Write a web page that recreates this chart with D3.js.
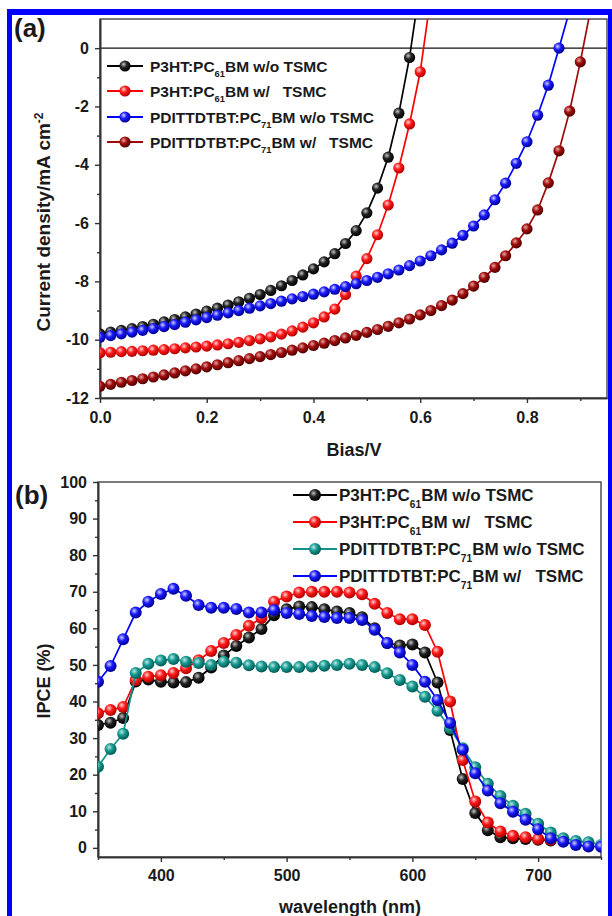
<!DOCTYPE html>
<html>
<head>
<meta charset="utf-8">
<script src="https://cdn.jsdelivr.net/npm/d3@7"></script>
<style>
body { margin: 0; background: #fff; }
text { font-family: "Liberation Sans", Arial, sans-serif; font-weight: bold; fill: #1a1a1a; }
</style>
</head>
<body>
<div id="chart"></div>
<script>
var svgWidth = 612;
var svgHeight = 916;

// ---------- panel (a): J-V curves ----------
var biasV = [0.00, 0.02, 0.04, 0.06, 0.08, 0.10, 0.12, 0.14, 0.16, 0.18,
  0.20, 0.22, 0.24, 0.26, 0.28, 0.30, 0.32, 0.34, 0.36, 0.38,
  0.40, 0.42, 0.44, 0.46, 0.48, 0.50, 0.52, 0.54, 0.56, 0.58,
  0.60, 0.62, 0.64, 0.66, 0.68, 0.70, 0.72, 0.74, 0.76, 0.78,
  0.80, 0.82, 0.84, 0.86, 0.88, 0.90, 0.92];

var jP3htWo = [-9.80, -9.74, -9.68, -9.62, -9.55, -9.47, -9.39, -9.31, -9.22, -9.12,
  -9.02, -8.92, -8.81, -8.70, -8.58, -8.45, -8.31, -8.15, -7.97, -7.78,
  -7.57, -7.33, -7.05, -6.70, -6.26, -5.65, -4.80, -3.74, -2.23, -0.32, 2.2];

var jP3htW = [-10.45, -10.43, -10.41, -10.40, -10.38, -10.36, -10.34, -10.31, -10.28, -10.25,
  -10.22, -10.18, -10.14, -10.09, -10.03, -9.97, -9.90, -9.81, -9.70, -9.57,
  -9.42, -9.22, -8.95, -8.45, -7.82, -7.22, -6.40, -5.38, -4.11, -2.60, -0.81, 1.8];

var jPdiWo = [-9.92, -9.86, -9.80, -9.74, -9.68, -9.62, -9.55, -9.48, -9.40, -9.32,
  -9.24, -9.16, -9.08, -9.00, -8.92, -8.84, -8.76, -8.68, -8.60, -8.52,
  -8.44, -8.36, -8.27, -8.18, -8.08, -7.97, -7.86, -7.74, -7.61, -7.46,
  -7.30, -7.12, -6.92, -6.69, -6.42, -6.10, -5.72, -5.20, -4.63, -3.95,
  -3.21, -2.30, -1.27, 0.00, 1.3];

var jPdiW = [-11.60, -11.53, -11.46, -11.40, -11.34, -11.28, -11.21, -11.14, -11.07, -11.00,
  -10.93, -10.86, -10.79, -10.72, -10.65, -10.58, -10.51, -10.44, -10.36, -10.28,
  -10.20, -10.12, -10.03, -9.94, -9.85, -9.75, -9.65, -9.54, -9.42, -9.29,
  -9.15, -9.00, -8.83, -8.64, -8.42, -8.16, -7.86, -7.52, -7.12, -6.68,
  -6.20, -5.55, -4.62, -3.52, -2.16, -0.47, 1.4];

var jvLabels = [
  ["P3HT:PC", "61", "BM w/o TSMC"],
  ["P3HT:PC", "61", "BM w/   TSMC"],
  ["PDITTDTBT:PC", "71", "BM w/o TSMC"],
  ["PDITTDTBT:PC", "71", "BM w/   TSMC"]
];

var biasTicks = [0, 0.2, 0.4, 0.6, 0.8];
var biasMinor = [0.1, 0.3, 0.5, 0.7, 0.9];
var jTicks = [-12, -10, -8, -6, -4, -2, 0];
var jMinor = [-11, -9, -7, -5, -3, -1];

// ---------- panel (b): IPCE spectra ----------
var wavelength = [350, 360, 370, 380, 390, 400, 410, 420, 430, 440,
  450, 460, 470, 480, 490, 500, 510, 520, 530, 540,
  550, 560, 570, 580, 590, 600, 610, 620, 630, 640,
  650, 660, 670, 680, 690, 700, 710, 720, 730, 740, 750];

var ipceP3htWo = [33.6, 34.2, 35.5, 45.5, 46.0, 45.4, 45.2, 45.3, 46.5, 49.3,
  52.6, 55.2, 57.5, 59.8, 63.6, 65.2, 66.0, 65.8, 65.2, 64.6,
  64.2, 63.0, 60.0, 56.0, 55.3, 55.6, 53.4, 45.2, 32.2, 18.8,
  9.5, 4.8, 2.9, 2.6, 2.4, 2.2, 2.0];

var ipceP3htW = [36.8, 37.7, 38.5, 45.9, 46.8, 47.2, 47.8, 49.1, 51.3, 53.8,
  56.0, 58.2, 60.7, 62.8, 67.3, 68.7, 69.8, 70.0, 70.0, 70.0,
  69.8, 69.3, 66.7, 64.2, 62.5, 62.5, 60.9, 53.6, 40.0, 24.0,
  12.7, 6.9, 4.5, 3.3, 2.9, 2.4, 2.2];

var ipcePdiWo = [22.2, 27.0, 31.2, 47.8, 50.3, 51.2, 51.6, 50.9, 50.5, 50.0,
  50.9, 50.6, 49.9, 49.6, 49.4, 49.4, 49.4, 49.6, 49.8, 50.0,
  50.3, 50.0, 49.4, 47.7, 45.9, 44.1, 41.3, 37.5, 32.7, 27.2,
  22.0, 17.5, 14.2, 11.5, 9.3, 6.6, 4.2, 2.6, 1.9, 1.5, 0.8];

var ipcePdiW = [45.4, 49.7, 57.0, 64.3, 67.3, 69.4, 70.8, 68.9, 66.4, 65.6,
  65.6, 65.3, 64.3, 64.3, 65.0, 64.2, 63.9, 63.4, 63.1, 62.8,
  62.8, 62.3, 59.6, 56.0, 53.4, 50.0, 45.4, 40.4, 34.1, 26.8,
  20.4, 15.7, 12.2, 9.9, 7.7, 5.1, 2.6, 1.7, 0.8, 0.4, 0.3];

var ipceLabels = [
  ["P3HT:PC", "61", "BM w/o TSMC"],
  ["P3HT:PC", "61", "BM w/   TSMC"],
  ["PDITTDTBT:PC", "71", "BM w/o TSMC"],
  ["PDITTDTBT:PC", "71", "BM w/   TSMC"]
];

var waveTicks = [400, 500, 600, 700];
var waveMinor = [350, 450, 550, 650, 750];
var ipceTicks = [0, 10, 20, 30, 40, 50, 60, 70, 80, 90, 100];
var ipceMinor = [5, 15, 25, 35, 45, 55, 65, 75, 85, 95];

// ball colours: [line, highlight, body, rim]
var colBlack = ["#000000", "#c4c4c4", "#222222", "#000000"];
var colRed = ["#ff0000", "#ffd2d2", "#ff1a1a", "#b00000"];
var colBlue = ["#0000ff", "#cfcfff", "#1a1aff", "#000090"];
var colDarkRed = ["#9e0a0a", "#e4a8a8", "#a30d0d", "#520000"];
var colTeal = ["#14918a", "#b8ebe5", "#1a9a92", "#005a55"];

var svg = d3.select("#chart")
  .append("svg")
  .attr("width", svgWidth)
  .attr("height", svgHeight);

var defs = svg.append("defs");

function makeBall(id, c) {
  var g = defs.append("radialGradient")
    .attr("id", id)
    .attr("cx", "38%").attr("cy", "35%").attr("r", "65%");
  g.append("stop").attr("offset", "0%").attr("stop-color", c[1]);
  g.append("stop").attr("offset", "45%").attr("stop-color", c[2]);
  g.append("stop").attr("offset", "100%").attr("stop-color", c[3]);
}
makeBall("bBlack", colBlack);
makeBall("bRed", colRed);
makeBall("bBlue", colBlue);
makeBall("bDarkRed", colDarkRed);
makeBall("bTeal", colTeal);

// blue frame round the figure
svg.append("rect").attr("x", 7).attr("y", 9).attr("width", 605).attr("height", 6).attr("fill", "#0000ff");
svg.append("rect").attr("x", 7).attr("y", 9).attr("width", 5).attr("height", 907).attr("fill", "#0000ff");
svg.append("rect").attr("x", 608).attr("y", 9).attr("width", 4).attr("height", 907).attr("fill", "#0000ff");

function drawSeries(g, xs, ys, x, y, col, ballId, r) {
  var pts = ys.map(function(v, i) { return [xs[i], v]; });
  g.append("path")
    .datum(pts)
    .attr("d", d3.line().x(d => x(d[0])).y(d => y(d[1])))
    .attr("fill", "none")
    .attr("stroke", col[0])
    .attr("stroke-width", 1.7);
  g.selectAll(null)
    .data(pts)
    .enter()
    .append("circle")
    .attr("cx", d => x(d[0]))
    .attr("cy", d => y(d[1]))
    .attr("r", r)
    .attr("fill", "url(#" + ballId + ")");
}

function styleAxis(sel, fs) {
  sel.select(".domain").attr("stroke", "#333").attr("stroke-width", 1.6);
  sel.selectAll("line").attr("stroke", "#333").attr("stroke-width", 1.4);
  sel.selectAll("text").style("font-size", fs + "px").attr("fill", "#1a1a1a");
}

function legendRow(g, x0, y0, lineLen, textX, fs, parts, col, ballId, r) {
  g.append("line")
    .attr("x1", x0).attr("x2", x0 + lineLen)
    .attr("y1", y0).attr("y2", y0)
    .attr("stroke", col[0]).attr("stroke-width", 1.8);
  g.append("circle")
    .attr("cx", x0 + lineLen / 2).attr("cy", y0).attr("r", r)
    .attr("fill", "url(#" + ballId + ")");
  var t = g.append("text")
    .attr("x", textX).attr("y", y0 + fs * 0.36)
    .style("font-size", fs + "px")
    .style("white-space", "pre");
  t.append("tspan").text(parts[0]);
  t.append("tspan").attr("dy", fs * 0.38).style("font-size", (fs * 0.6) + "px").text(parts[1]);
  t.append("tspan").attr("dy", -fs * 0.38).text(parts[2]);
}

// ================= panel (a) =================
var xA = d3.scaleLinear().domain([0, 0.95]).range([100, 607]);
var yA = d3.scaleLinear().domain([-12, 1]).range([398, 19]);

defs.append("clipPath").attr("id", "clipA")
  .append("rect").attr("x", 100).attr("y", 19).attr("width", 507).attr("height", 379);

var gA = svg.append("g");

// frame
gA.append("rect")
  .attr("x", 100).attr("y", 19).attr("width", 507).attr("height", 379)
  .attr("fill", "none").attr("stroke", "#444").attr("stroke-width", 1.4);

// zero line
gA.append("line")
  .attr("x1", xA(0)).attr("x2", xA(0.95))
  .attr("y1", yA(0)).attr("y2", yA(0))
  .attr("stroke", "#111").attr("stroke-width", 1.2);

var axBA = gA.append("g")
  .attr("transform", "translate(0," + yA(-12) + ")")
  .call(d3.axisBottom(xA).tickValues(biasTicks).tickFormat(d3.format(".1f")).tickSize(5).tickSizeOuter(0).tickPadding(9));
styleAxis(axBA, 16);
var axBAm = gA.append("g")
  .attr("transform", "translate(0," + yA(-12) + ")")
  .call(d3.axisBottom(xA).tickValues(biasMinor).tickFormat("").tickSize(3).tickSizeOuter(0));
styleAxis(axBAm, 16);

var axLA = gA.append("g")
  .attr("transform", "translate(" + xA(0) + ",0)")
  .call(d3.axisLeft(yA).tickValues(jTicks).tickFormat(d => d < 0 ? "-" + Math.abs(d) : d).tickSize(5).tickSizeOuter(0).tickPadding(6));
styleAxis(axLA, 16);
var axLAm = gA.append("g")
  .attr("transform", "translate(" + xA(0) + ",0)")
  .call(d3.axisLeft(yA).tickValues(jMinor).tickFormat("").tickSize(3).tickSizeOuter(0));
styleAxis(axLAm, 16);

var plotA = gA.append("g").attr("clip-path", "url(#clipA)");
drawSeries(plotA, biasV, jP3htWo, xA, yA, colBlack, "bBlack", 5.6);
drawSeries(plotA, biasV, jP3htW, xA, yA, colRed, "bRed", 5.6);
drawSeries(plotA, biasV, jPdiWo, xA, yA, colBlue, "bBlue", 5.6);
drawSeries(plotA, biasV, jPdiW, xA, yA, colDarkRed, "bDarkRed", 5.6);

var legA = gA.append("g");
var legAy = [66, 91, 117, 142];
var legACols = [colBlack, colRed, colBlue, colDarkRed];
var legABalls = ["bBlack", "bRed", "bBlue", "bDarkRed"];
jvLabels.forEach(function(p, i) {
  legendRow(legA, 107, legAy[i], 36, 150, 15.5, p, legACols[i], legABalls[i], 5.6);
});

// titles
gA.append("text")
  .attr("x", 354).attr("y", 456)
  .attr("text-anchor", "middle")
  .style("font-size", "18px")
  .text("Bias/V");

var yTitleA = gA.append("text")
  .attr("transform", "translate(50,222) rotate(-90)")
  .attr("text-anchor", "middle")
  .style("font-size", "19px");
yTitleA.append("tspan").text("Current density/mA cm");
yTitleA.append("tspan").attr("dy", -7).style("font-size", "12px").text("-2");

gA.append("text")
  .attr("x", 14).attr("y", 37)
  .style("font-size", "26px")
  .text("(a)");

// ================= panel (b) =================
var xB = d3.scaleLinear().domain([350, 750]).range([98, 601]);
var yB = d3.scaleLinear().domain([-2.5, 100]).range([857, 482]);

defs.append("clipPath").attr("id", "clipB")
  .append("rect").attr("x", 98).attr("y", 482).attr("width", 503).attr("height", 375);

var gB = svg.append("g");

gB.append("rect")
  .attr("x", 98).attr("y", 482).attr("width", 503).attr("height", 375)
  .attr("fill", "none").attr("stroke", "#444").attr("stroke-width", 1.4);

var axBB = gB.append("g")
  .attr("transform", "translate(0," + yB(-2.5) + ")")
  .call(d3.axisBottom(xB).tickValues(waveTicks).tickFormat(d3.format("d")).tickSize(5).tickSizeOuter(0).tickPadding(8));
styleAxis(axBB, 16);
var axBBm = gB.append("g")
  .attr("transform", "translate(0," + yB(-2.5) + ")")
  .call(d3.axisBottom(xB).tickValues(waveMinor).tickFormat("").tickSize(3).tickSizeOuter(0));
styleAxis(axBBm, 16);

var axLB = gB.append("g")
  .attr("transform", "translate(" + xB(350) + ",0)")
  .call(d3.axisLeft(yB).tickValues(ipceTicks).tickFormat(d3.format("d")).tickSize(5).tickSizeOuter(0).tickPadding(6));
styleAxis(axLB, 16);
var axLBm = gB.append("g")
  .attr("transform", "translate(" + xB(350) + ",0)")
  .call(d3.axisLeft(yB).tickValues(ipceMinor).tickFormat("").tickSize(3).tickSizeOuter(0));
styleAxis(axLBm, 16);

var plotB = gB.append("g").attr("clip-path", "url(#clipB)");
drawSeries(plotB, wavelength, ipceP3htWo, xB, yB, colBlack, "bBlack", 6);
drawSeries(plotB, wavelength, ipceP3htW, xB, yB, colRed, "bRed", 6);
drawSeries(plotB, wavelength, ipcePdiWo, xB, yB, colTeal, "bTeal", 6);
drawSeries(plotB, wavelength, ipcePdiW, xB, yB, colBlue, "bBlue", 6);

var legB = gB.append("g");
var legBy = [495, 522, 549, 576];
var legBCols = [colBlack, colRed, colTeal, colBlue];
var legBBalls = ["bBlack", "bRed", "bTeal", "bBlue"];
ipceLabels.forEach(function(p, i) {
  legendRow(legB, 293, legBy[i], 44, 339, 17, p, legBCols[i], legBBalls[i], 6);
});

gB.append("text")
  .attr("x", 350).attr("y", 913)
  .attr("text-anchor", "middle")
  .style("font-size", "18px")
  .text("wavelength (nm)");

gB.append("text")
  .attr("transform", "translate(50,681) rotate(-90)")
  .attr("text-anchor", "middle")
  .style("font-size", "18px")
  .text("IPCE (%)");

gB.append("text")
  .attr("x", 15).attr("y", 504)
  .style("font-size", "26px")
  .text("(b)");
</script>
</body>
</html>
